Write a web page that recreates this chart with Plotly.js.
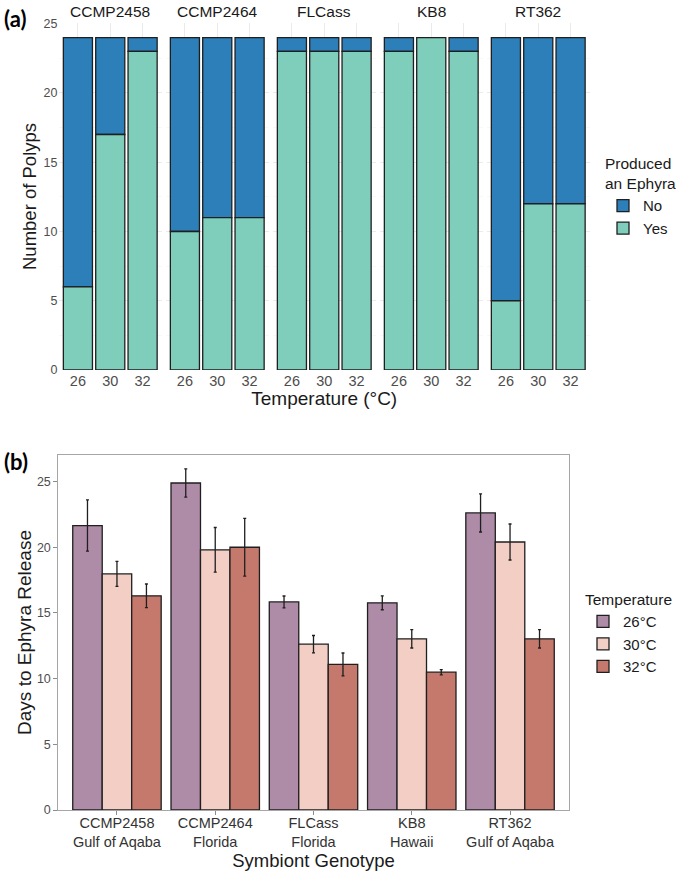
<!DOCTYPE html>
<html>
<head>
<meta charset="utf-8">
<script src="https://cdn.plot.ly/plotly-3.0.1.min.js"></script>
<style>html,body{margin:0;padding:0;background:#fff;}#chart{width:685px;height:874px;}</style>
</head>
<body>
<div id="chart"></div>
<script>
// ---------- DATA ----------
const genotypes = ['CCMP2458', 'CCMP2464', 'FLCass', 'KB8', 'RT362'];
const origins = ['Gulf of Aqaba', 'Florida', 'Florida', 'Hawaii', 'Gulf of Aqaba'];
const temps = ['26', '30', '32'];

// Panel (a): number of polyps that produced an ephyra (Yes) or not (No), per temperature
const yes_CCMP2458 = [6, 17, 23];
const no_CCMP2458  = [18, 7, 1];
const yes_CCMP2464 = [10, 11, 11];
const no_CCMP2464  = [14, 13, 13];
const yes_FLCass   = [23, 23, 23];
const no_FLCass    = [1, 1, 1];
const yes_KB8      = [23, 24, 23];
const no_KB8       = [1, 0, 1];
const yes_RT362    = [5, 12, 12];
const no_RT362     = [19, 12, 12];

// Panel (b): days to ephyra release (mean and error) by genotype
const days26 = [21.65, 24.89, 15.84, 15.77, 22.61];
const days30 = [17.97, 19.80, 12.62, 13.03, 20.40];
const days32 = [16.30, 20.00, 11.08, 10.49, 13.03];
const err26  = [1.95, 1.08, 0.45, 0.53, 1.45];
const err30  = [0.95, 1.70, 0.66, 0.70, 1.37];
const err32  = [0.90, 2.20, 0.87, 0.20, 0.70];

// ---------- STYLE ----------
const W = 685, H = 874;
const colNo = '#2C7FB8', colYes = '#7FCDBB';
const col26 = '#AE8CA8', col30 = '#F2CEC5', col32 = '#C5796D';
const edge = {color: '#1f1f1f', width: 1.3};
const fontFam = 'Arial, "Liberation Sans", sans-serif';

const yesArr = [yes_CCMP2458, yes_CCMP2464, yes_FLCass, yes_KB8, yes_RT362];
const noArr  = [no_CCMP2458, no_CCMP2464, no_FLCass, no_KB8, no_RT362];

const traces = [];
const layout = {
  width: W, height: H,
  margin: {l: 0, r: 0, t: 0, b: 0},
  paper_bgcolor: '#ffffff', plot_bgcolor: '#ffffff',
  font: {family: fontFam, color: '#1a1a1a'},
  barmode: 'group', bargap: 0.1, bargroupgap: 0,
  showlegend: true,
  annotations: [],
};

// facet panels for (a)
const facetLeft0 = 58.5, facetStep = 107, facetW = 103.5;
const aTop = 23, aBottom = 370;
for (let i = 0; i < genotypes.length; i++) {
  const xid = i === 0 ? 'x' : 'x' + (i + 1);
  const xkey = i === 0 ? 'xaxis' : 'xaxis' + (i + 1);
  const l = facetLeft0 + i * facetStep;
  layout[xkey] = {
    domain: [l / W, (l + facetW) / W],
    anchor: 'y', type: 'category', range: [-0.6, 2.6],
    showgrid: true, gridcolor: '#EBEBEB', gridwidth: 1,
    zeroline: false, showline: false, ticks: '',
    tickfont: {size: 14.5, color: '#4D4D4D'},
    fixedrange: true,
  };
  if (i === 2) {
    layout[xkey].title = {text: 'Temperature (°C)', font: {size: 19, color: '#1a1a1a'}, standoff: 3};
  }
  traces.push({
    type: 'bar', x: temps, y: noArr[i], base: yesArr[i],
    xaxis: xid, yaxis: 'y', offsetgroup: 'a',
    name: 'No', legendgroup: 'No', showlegend: i === 0, legend: 'legend',
    marker: {color: colNo, line: edge}, hoverinfo: 'skip',
  });
  traces.push({
    type: 'bar', x: temps, y: yesArr[i],
    xaxis: xid, yaxis: 'y', offsetgroup: 'a',
    name: 'Yes', legendgroup: 'Yes', showlegend: i === 0, legend: 'legend',
    marker: {color: colYes, line: edge}, hoverinfo: 'skip',
  });
  layout.annotations.push({
    text: genotypes[i], xref: 'paper', yref: 'paper',
    x: (l + facetW / 2) / W, y: 1 - 11.5 / H, xanchor: 'center', yanchor: 'middle',
    showarrow: false, font: {size: 15.5, color: '#1a1a1a'},
  });
}
layout.yaxis = {
  domain: [1 - aBottom / H, 1 - aTop / H],
  anchor: 'x', range: [0, 25.05], tick0: 0, dtick: 5,
  showgrid: true, gridcolor: '#EBEBEB', gridwidth: 1,
  minor: {dtick: 2.5, showgrid: true, gridcolor: '#F4F4F4', gridwidth: 0.6},
  zeroline: false, showline: false, ticks: '',
  tickfont: {size: 12.5, color: '#4D4D4D'},
  title: {text: 'Number of Polyps', font: {size: 18.5, color: '#1a1a1a'}, standoff: 2},
  fixedrange: true,
};

// panel (b)
const bLeft = 58, bRight = 569, bTop = 455, bBottom = 810;
const tickText = genotypes.map((g, k) => g + '<br>' + origins[k]);
layout.xaxis6 = {
  domain: [bLeft / W, bRight / W], anchor: 'y2', type: 'category',
  range: [-0.6, 4.6], tickvals: genotypes, ticktext: tickText,
  ticks: 'outside', ticklen: 3.5, tickcolor: '#8c8c8c', tickwidth: 1,
  ticklabelstandoff: -4,
  showline: true, mirror: true, linecolor: '#a6a6a6', linewidth: 1.2,
  showgrid: false, zeroline: false,
  tickfont: {size: 14.5, color: '#333333'},
  title: {text: 'Symbiont Genotype', font: {size: 18.5, color: '#1a1a1a'}, standoff: 3},
  fixedrange: true,
};
layout.yaxis2 = {
  domain: [1 - bBottom / H, 1 - bTop / H], anchor: 'x6',
  range: [0, 27.02], tick0: 0, dtick: 5,
  ticks: 'outside', ticklen: 3.5, tickcolor: '#8c8c8c', tickwidth: 1,
  showline: true, mirror: true, linecolor: '#a6a6a6', linewidth: 1.2,
  showgrid: false, zeroline: false,
  tickfont: {size: 12.5, color: '#4D4D4D'},
  title: {text: 'Days to Ephyra Release', font: {size: 19, color: '#1a1a1a'}, standoff: 0},
  fixedrange: true,
};
const bSeries = [
  {name: '26°C', y: days26, e: err26, c: col26},
  {name: '30°C', y: days30, e: err30, c: col30},
  {name: '32°C', y: days32, e: err32, c: col32},
];
bSeries.forEach((s, k) => {
  traces.push({
    type: 'bar', x: genotypes, y: s.y, xaxis: 'x6', yaxis: 'y2',
    offsetgroup: 'b' + k, name: s.name, legend: 'legend2',
    marker: {color: s.c, line: edge},
    error_y: {type: 'data', array: s.e, visible: true, color: '#1f1f1f', thickness: 1.3, width: 1.5},
    hoverinfo: 'skip',
  });
});

layout.legend = {
  x: 603 / W, xanchor: 'left', y: 1 - 149 / H, yanchor: 'top',
  bgcolor: 'rgba(0,0,0,0)', traceorder: 'normal', tracegroupgap: 0,
  title: {text: 'Produced<br>an Ephyra', font: {size: 15.5, color: '#1a1a1a'}},
  font: {size: 15, color: '#1a1a1a'}, itemwidth: 30,
};
layout.legend2 = {
  x: 583 / W, xanchor: 'left', y: 1 - 585 / H, yanchor: 'top',
  bgcolor: 'rgba(0,0,0,0)', traceorder: 'normal', tracegroupgap: 0,
  title: {text: 'Temperature', font: {size: 15.5, color: '#1a1a1a'}},
  font: {size: 15, color: '#1a1a1a'}, itemwidth: 30,
};

layout.annotations.push({
  text: '<b>(a)</b>', xref: 'paper', yref: 'paper', x: 2 / W, y: 1 - 18 / H,
  xanchor: 'left', yanchor: 'middle', showarrow: false,
  font: {size: 22, family: 'Lato, "Open Sans", sans-serif', color: '#000'},
});
layout.annotations.push({
  text: '<b>(b)</b>', xref: 'paper', yref: 'paper', x: 2 / W, y: 1 - 462 / H,
  xanchor: 'left', yanchor: 'middle', showarrow: false,
  font: {size: 22, family: 'Lato, "Open Sans", sans-serif', color: '#000'},
});

Plotly.newPlot('chart', traces, layout, {displayModeBar: false, staticPlot: true});
</script>
</body>
</html>
